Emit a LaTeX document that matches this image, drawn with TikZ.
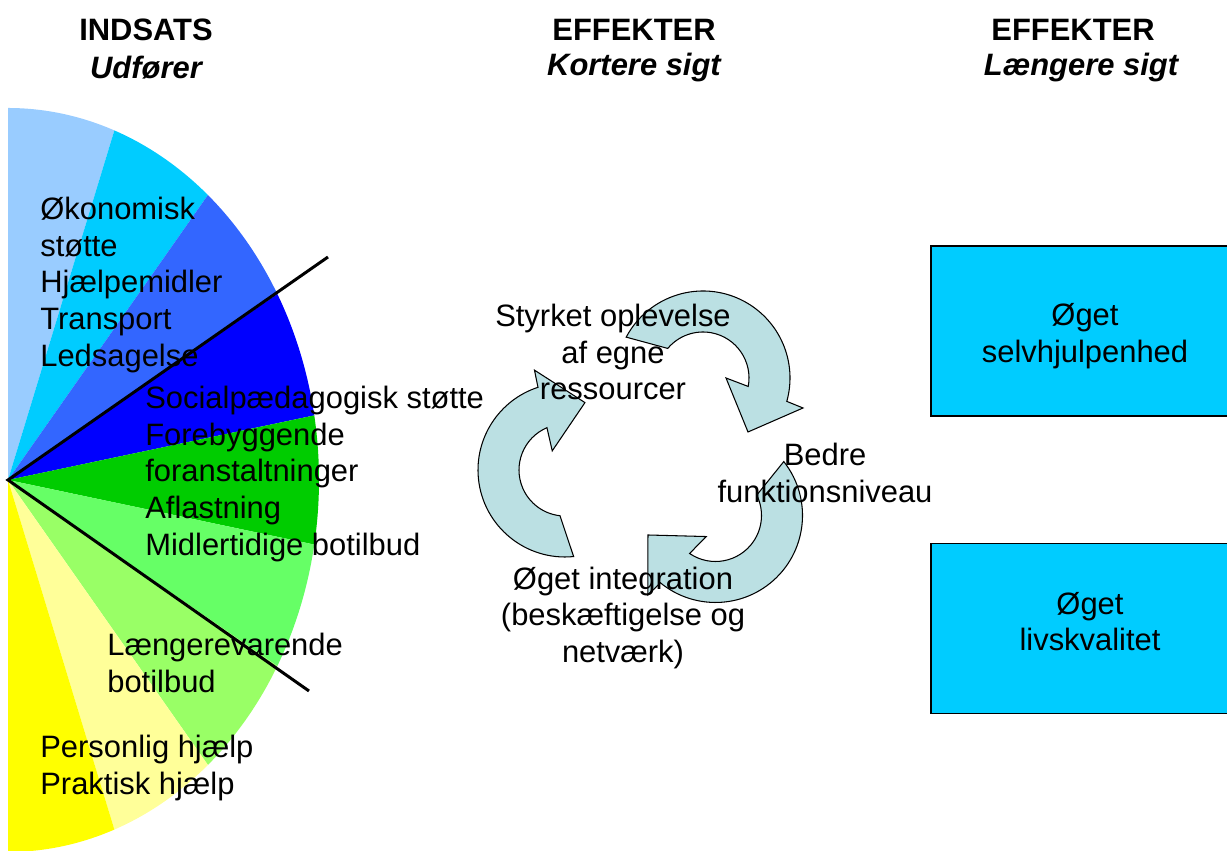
\documentclass[tikz,border=0pt]{standalone}
\usepackage{fontspec}
\setmainfont{Liberation Sans}
\usepackage{tikz}

\definecolor{fanA}{HTML}{99CCFF}
\definecolor{fanB}{HTML}{00CCFF}
\definecolor{fanC}{HTML}{3366FF}
\definecolor{fanD}{HTML}{0000FF}
\definecolor{fanE}{HTML}{00CC00}
\definecolor{fanF}{HTML}{66FF66}
\definecolor{fanG}{HTML}{99FF66}
\definecolor{fanH}{HTML}{FFFF99}
\definecolor{fanI}{HTML}{FFFF00}
\definecolor{cyclefill}{HTML}{BBE0E3}
\definecolor{effectfill}{HTML}{00CCFF}

\tikzset{
  txt/.style={inner sep=0pt, font=\fontsize{17.6}{20.9}\selectfont},
  head/.style={txt, font=\fontsize{17.6}{20.9}\selectfont\bfseries},
  subhead/.style={txt, font=\fontsize{17.6}{20.9}\selectfont\bfseries\itshape},
  cyclearrow/.style={fill=cyclefill, draw=black, line width=0.6pt},
  effectbox/.style={draw=black, line width=1.1pt, fill=effectfill,
    minimum width=6.18cm, minimum height=3.4cm}
}

\begin{document}
\begin{tikzpicture}[x=0.02cm, y=0.02cm]

\useasboundingbox (0,0) rectangle (1227,851);
\clip (0,0) rectangle (1227,851);

\coordinate (fan) at (8,371);

% the fan of services
\foreach \a/\c in {90/fanA,70/fanB,50/fanC,30/fanD,10/fanE,-10/fanF,-30/fanG,-50/fanH,-70/fanI}
    \fill[\c] (fan) -- ++(\a:311 and 372) arc[start angle=\a, end angle=\a-20, x radius=311, y radius=372] -- cycle;

\coordinate (cutup) at (328,594);
\coordinate (cutdown) at (309,160);
\draw[line width=1.7pt] (cutup) -- (fan) -- (cutdown);

% the three circular arrows
\foreach \cx/\cy/\r in {703/473/0, 715.5/335.5/-113.7, 565/381/123.7}{
\begin{scope}[shift={(\cx,\cy)}, rotate=\r]
    \draw[cyclearrow] (152:87) arc[start angle=152, end angle=-15.6, radius=87]
        -- (100,-30) -- (45,-54) -- (23,0) -- (-10.6:46)
        arc[start angle=-10.6, end angle=140, radius=46] -- cycle;
\end{scope}
}

% headings
\node[head] (inds) at (146,821) {INDSATS};
\node[subhead] (udf) at (146,783) {Udfører};
\node[head] (effk) at (634,821) {EFFEKTER};
\node[subhead] (kort) at (634,783) {Kortere sigt};
\node[head] (effl) at (1073,821) {EFFEKTER};
\node[subhead] (laeng) at (1081,783) {Længere sigt};

% texts in the fan
\node[txt, anchor=west, align=left] (okon) at (40,566)
    {Økonomisk\\støtte\\Hjælpemidler\\Transport\\Ledsagelse};
\node[txt, anchor=west, align=left] (socp) at (145,377)
    {Socialpædagogisk støtte\\Forebyggende\\foranstaltninger\\Aflastning\\Midlertidige botilbud};
\node[txt, anchor=west, align=left] (laengb) at (107,188)
    {Længerevarende\\botilbud};
\node[txt, anchor=west, align=left] (perh) at (40,83)
    {Personlig hjælp\\Praktisk hjælp};

% texts in the cycle
\node[txt, align=center] (styrk) at (613,499) {Styrket oplevelse\\af egne\\ressourcer};
\node[txt, align=center] (bedre) at (825,378) {Bedre\\funktionsniveau};
\node[txt, align=center] (integ) at (623,233) {Øget integration\\(beskæftigelse og\\netværk)};

% long term effects
\node[effectbox] (selv) at (1085.5,520) {};
\node[effectbox] (livs) at (1085.5,222.5) {};
\node[txt, align=center] (selvtxt) at (1085,514.5) {Øget\\selvhjulpenhed};
\node[txt, align=center] (livstxt) at (1090,229.5) {Øget\\livskvalitet};

\end{tikzpicture}
\end{document}
